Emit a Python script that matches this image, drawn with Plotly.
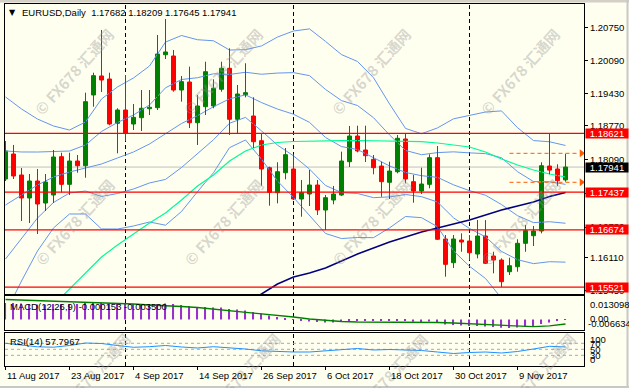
import plotly.graph_objects as go

# ---------------- data ----------------
bar_index = list(range(71))            # 11 Aug 2017 ... 17 Nov 2017 (trading days)
date_ticks = [0, 8, 16, 24, 32, 40, 48, 56, 64]
date_labels = ["11 Aug 2017", "23 Aug 2017", "4 Sep 2017", "14 Sep 2017", "26 Sep 2017",
               "6 Oct 2017", "18 Oct 2017", "30 Oct 2017", "9 Nov 2017"]
month_starts = [15, 36, 58]            # 1 Sep, 2 Oct, 1 Nov

open_ = [1.17700, 1.18204, 1.17781, 1.17317, 1.17660, 1.17216, 1.17378, 1.18150, 1.17593, 1.18063,
         1.17968, 1.19394, 1.19777, 1.19716, 1.18823, 1.19091, 1.18809, 1.18936, 1.19117, 1.19138,
         1.20206, 1.20180, 1.19494, 1.19655, 1.18835, 1.19158, 1.19172, 1.19509, 1.19932, 1.18904,
         1.19400, 1.18970, 1.18472, 1.17928, 1.17424, 1.17827, 1.17902, 1.17297, 1.17398, 1.17579,
         1.17075, 1.17277, 1.17378, 1.18049, 1.18567, 1.18285, 1.18097, 1.17962, 1.17634, 1.17847,
         1.18507, 1.17646, 1.17458, 1.17593, 1.18130, 1.16491, 1.16013, 1.16470, 1.16450, 1.16188,
         1.16551, 1.16148, 1.16067, 1.15831, 1.15932, 1.16404, 1.16557, 1.16652, 1.17962, 1.17902,
         1.17682]
high = [1.18466, 1.18386, 1.17922, 1.17801, 1.17902, 1.17801, 1.18285, 1.18230, 1.18230, 1.18184,
        1.19440, 1.19843, 1.20704, 1.19843, 1.19126, 1.19797, 1.19212, 1.19494, 1.19494, 1.20603,
        1.20926, 1.20301, 1.19777, 1.19964, 1.19394, 1.20065, 1.19710, 1.20065, 1.20335, 1.19595,
        1.20033, 1.19347, 1.18607, 1.17948, 1.18037, 1.18325, 1.18198, 1.17680, 1.17882, 1.17680,
        1.17378, 1.17559, 1.18251, 1.18769, 1.18775, 1.18775, 1.18184, 1.18049, 1.18049, 1.18587,
        1.18621, 1.17781, 1.17928, 1.18198, 1.18365, 1.16571, 1.16571, 1.16605, 1.16571, 1.16873,
        1.16873, 1.16234, 1.16101, 1.16113, 1.16485, 1.16773, 1.16752, 1.18037, 1.18621, 1.17997,
        1.18209]
low = [1.17660, 1.17700, 1.16853, 1.16813, 1.16591, 1.17055, 1.17216, 1.17432, 1.17378, 1.17827,
       1.17726, 1.19158, 1.19454, 1.18783, 1.18218, 1.18466, 1.18688, 1.18668, 1.18990, 1.19091,
       1.20119, 1.19460, 1.19259, 1.18728, 1.18386, 1.18990, 1.19126, 1.19460, 1.18587, 1.18621,
       1.19347, 1.18325, 1.17565, 1.17162, 1.17210, 1.17694, 1.17277, 1.16940, 1.17156, 1.16974,
       1.16672, 1.17190, 1.17357, 1.17942, 1.18238, 1.18043, 1.17795, 1.17343, 1.17297, 1.17815,
       1.17613, 1.17222, 1.17398, 1.17513, 1.16470, 1.15731, 1.15906, 1.16234, 1.16067, 1.16101,
       1.15986, 1.15799, 1.15521, 1.15765, 1.15831, 1.16234, 1.16349, 1.16605, 1.17795, 1.17559,
       1.17645]
close = [1.18265, 1.17761, 1.17317, 1.17660, 1.17196, 1.17640, 1.18144, 1.17593, 1.18063, 1.17968,
         1.19259, 1.19783, 1.19696, 1.18809, 1.19091, 1.18621, 1.18944, 1.19126, 1.19146, 1.20220,
         1.20261, 1.19494, 1.19662, 1.18835, 1.19172, 1.19863, 1.19529, 1.19932, 1.18904, 1.19414,
         1.19440, 1.18452, 1.17902, 1.17432, 1.17847, 1.18190, 1.17297, 1.17424, 1.17579, 1.17075,
         1.17323, 1.17398, 1.18063, 1.18567, 1.18265, 1.18170, 1.17928, 1.17646, 1.17861, 1.18521,
         1.17700, 1.17458, 1.17599, 1.18130, 1.16485, 1.15980, 1.16491, 1.16430, 1.16214, 1.16551,
         1.16001, 1.16067, 1.15630, 1.15952, 1.16404, 1.16658, 1.16652, 1.17968, 1.17880, 1.17666,
         1.17941]

even_idx = list(range(0, 71, 2))
bb_upper2 = [1.19354, 1.19112, 1.18909, 1.18769, 1.18687, 1.18850, 1.19313, 1.19556, 1.19737, 1.19978,
             1.20461, 1.20593, 1.20508, 1.20487, 1.20300, 1.20307, 1.20383, 1.20562, 1.20684, 1.20726,
             1.20474, 1.20208, 1.20069, 1.19742, 1.19214, 1.18720, 1.18613, 1.18730, 1.18913, 1.18989,
             1.19051, 1.19073, 1.18735, 1.18475, 1.18451, 1.18376]
bb_upper1 = [1.18265, 1.18245, 1.18244, 1.18255, 1.18264, 1.18386, 1.18658, 1.18840, 1.18991, 1.19192,
             1.19538, 1.19706, 1.19742, 1.19822, 1.19808, 1.19852, 1.19812, 1.19836, 1.19845, 1.19784,
             1.19506, 1.19281, 1.19182, 1.18936, 1.18589, 1.18276, 1.18190, 1.18232, 1.18248, 1.18227,
             1.18212, 1.18129, 1.17848, 1.17648, 1.17645, 1.17592]
bb_mid = [1.17176, 1.17378, 1.17579, 1.17741, 1.17841, 1.17922, 1.18003, 1.18124, 1.18245, 1.18406,
          1.18615, 1.18819, 1.18976, 1.19157, 1.19316, 1.19397, 1.19241, 1.19110, 1.19006, 1.18842,
          1.18538, 1.18354, 1.18295, 1.18130, 1.17964, 1.17832, 1.17767, 1.17734, 1.17583, 1.17465,
          1.17373, 1.17185, 1.16961, 1.16821, 1.16839, 1.16808]
bb_lower1 = [1.16087, 1.16511, 1.16914, 1.17227, 1.17418, 1.17458, 1.17348, 1.17408, 1.17499, 1.17620,
             1.17692, 1.17932, 1.18210, 1.18492, 1.18824, 1.18942, 1.18670, 1.18384, 1.18167, 1.17900,
             1.17570, 1.17427, 1.17408, 1.17324, 1.17339, 1.17388, 1.17344, 1.17236, 1.16918, 1.16703,
             1.16534, 1.16241, 1.16074, 1.15994, 1.16033, 1.16024]
bb_lower2 = [1.14998, 1.15644, 1.16249, 1.16713, 1.16995, 1.16994, 1.16693, 1.16692, 1.16753, 1.16834,
             1.16769, 1.17045, 1.17444, 1.17827, 1.18332, 1.18487, 1.18099, 1.17658, 1.17328, 1.16958,
             1.16602, 1.16500, 1.16521, 1.16518, 1.16714, 1.16944, 1.16921, 1.16738, 1.16253, 1.15941,
             1.15695, 1.15297, 1.15187, 1.15167, 1.15227, 1.15240]

ma_fast_idx = list(range(6, 71, 2))
ma_fast = [1.15160, 1.15483, 1.15805, 1.16128, 1.16370, 1.16591, 1.16813, 1.17015, 1.17277, 1.17559,
           1.17781, 1.18063, 1.18265, 1.18386, 1.18436, 1.18456, 1.18466, 1.18466, 1.18472, 1.18476,
           1.18472, 1.18466, 1.18460, 1.18452, 1.18426, 1.18386, 1.18345, 1.18245, 1.18103, 1.17982,
           1.17882, 1.17801, 1.17741]
ma_slow_idx = list(range(30, 71, 2))
ma_slow = [1.15220, 1.15382, 1.15583, 1.15724, 1.15805, 1.15906, 1.16047, 1.16188, 1.16309, 1.16430,
           1.16531, 1.16632, 1.16712, 1.16793, 1.16874, 1.16974, 1.17075, 1.17156, 1.17237, 1.17347,
           1.17428]

macd_main = [0.01290, 0.01287, 0.01248, 0.01209, 0.01170, 0.01170, 0.01209, 0.01209, 0.01209, 0.01209,
             0.01287, 0.01310, 0.01303, 0.01287, 0.01248, 0.01209, 0.01209, 0.01170, 0.01131, 0.01209,
             0.01248, 0.01209, 0.01131, 0.01053, 0.00975, 0.00975, 0.00936, 0.00936, 0.00819, 0.00780,
             0.00702, 0.00585, 0.00468, 0.00312, 0.00195, 0.00078, -0.00039, -0.00117, -0.00156, -0.00195,
             -0.00234, -0.00234, -0.00195, -0.00117, -0.00078, -0.00062, -0.00078, -0.00117, -0.00117, -0.00078,
             -0.00117, -0.00172, -0.00195, -0.00156, -0.00273, -0.00390, -0.00429, -0.00468, -0.00507, -0.00507,
             -0.00546, -0.00585, -0.00640, -0.006634, -0.00624, -0.00585, -0.00507, -0.00351, -0.00234, -0.00117,
             -0.000153]
macd_signal = [0.01560, 0.01521, 0.01482, 0.01443, 0.01404, 0.01365, 0.01326, 0.01287, 0.01209, 0.01131,
               0.01092, 0.01014, 0.00936, 0.00819, 0.00702, 0.00585, 0.00468, 0.00312, 0.00195, 0.00039,
               -0.00078, -0.00156, -0.00195, -0.00195, -0.00195, -0.00179, -0.00195, -0.00234, -0.00273, -0.00335,
               -0.00390, -0.00491, -0.00546, -0.00562, -0.00491, -0.00350]
rsi = [70, 64.3, 58.3, 57, 62.7, 71, 69.3, 62.7, 56.7, 58.7, 62.7, 57.7, 54.3, 58.7, 56, 51, 45, 42,
       41, 41, 44.3, 49.3, 52.7, 47.7, 49.3, 47.7, 46, 41, 36, 39.3, 41, 37.7, 42.7, 51, 60, 57.7967]
rsi_levels = [70, 50, 30]

levels = [1.18621, 1.17437, 1.16674, 1.15521]
bid = 1.17941
alert_prices = [1.18218, 1.17634]
alert_from, alert_to = 63, 71.6
price_ticks = [1.20750, 1.20090, 1.19430, 1.18770, 1.18090, 1.17410, 1.16730, 1.16110, 1.15450]

# ---------------- styling ----------------
BG = '#FFFFF0'
BULL, BEAR = '#008000', '#FF0000'
BAND = '#6495ED'
FONT = 'Liberation Sans, Arial, sans-serif'
FS = 9.5
W, H = 629, 388
ML, MR, MT, MB = 5, 45, 4, 22
PW, PH = W - ML - MR, H - MT - MB


def px_x(px):
    return (px - ML) / PW


def px_y(py):
    return (H - MB - py) / PH


fig = go.Figure()
common = dict(hoverinfo='skip', showlegend=False)

for band in [bb_upper2, bb_upper1, bb_mid, bb_lower1, bb_lower2]:
    fig.add_trace(go.Scatter(x=even_idx, y=band, mode='lines', line=dict(color=BAND, width=1), **common))
fig.add_trace(go.Scatter(x=ma_fast_idx, y=ma_fast, mode='lines', line=dict(color='#00FA9A', width=1.2), **common))
fig.add_trace(go.Scatter(x=ma_slow_idx, y=ma_slow, mode='lines', line=dict(color='#000080', width=1.5), **common))

bull = [i for i in bar_index if close[i] >= open_[i]]
bear = [i for i in bar_index if close[i] < open_[i]]
for idxs, col in ((bull, BULL), (bear, BEAR)):
    wx, wy = [], []
    for i in idxs:
        wx += [i, i, None]
        wy += [low[i], high[i], None]
    fig.add_trace(go.Scatter(x=wx, y=wy, mode='lines', line=dict(color=col, width=1), **common))
    fig.add_trace(go.Bar(x=idxs, base=[open_[i] for i in idxs], y=[close[i] - open_[i] for i in idxs],
                         width=0.5, marker=dict(color=col, line=dict(color=col, width=1)), **common))

for p in alert_prices:
    fig.add_trace(go.Scatter(x=[alert_from, alert_to], y=[p, p], mode='lines',
                             line=dict(color='#FF5A00', width=1, dash='4px,3px'), **common))
    fig.add_trace(go.Scatter(x=[72], y=[p], mode='markers', cliponaxis=False,
                             marker=dict(symbol='triangle-right', size=7, color='#FF5A00'), **common))

fig.add_trace(go.Bar(x=bar_index, y=macd_main, width=0.14, marker=dict(color='#9932CC', line=dict(width=0)),
                     xaxis='x2', yaxis='y2', **common))
fig.add_trace(go.Scatter(x=even_idx, y=macd_signal, mode='lines', line=dict(color='#008000', width=1.3),
                         xaxis='x2', yaxis='y2', **common))
fig.add_trace(go.Scatter(x=even_idx, y=rsi, mode='lines', line=dict(color='#1E90FF', width=1),
                         xaxis='x3', yaxis='y3', **common))

shapes = []
for m in month_starts:
    shapes.append(dict(type='line', xref='x', yref='paper', x0=m, x1=m, y0=0, y1=1, layer='below',
                       line=dict(color='black', width=1, dash='4px,3px')))
shapes.append(dict(type='line', xref='paper', yref='y', x0=0, x1=1, y0=bid, y1=bid, layer='below',
                   line=dict(color='#C0C0C0', width=1)))
for lv in levels:
    shapes.append(dict(type='line', xref='paper', yref='y', x0=0, x1=1, y0=lv, y1=lv, layer='above',
                       line=dict(color='#FF0000', width=1.3)))
for lv in rsi_levels:
    shapes.append(dict(type='line', xref='paper', yref='y3', x0=0, x1=1, y0=lv, y1=lv, layer='below',
                       line=dict(color='#A8A8A8', width=1, dash='3px,3px')))
# window frame (grey) on top / right / bottom
shapes.append(dict(type='rect', xref='paper', yref='paper', x0=px_x(0), x1=px_x(W), y0=px_y(2.5), y1=px_y(0),
                   fillcolor='#D4D0C8', line=dict(width=0)))
shapes.append(dict(type='line', xref='paper', yref='paper', x0=px_x(627.5), x1=px_x(627.5), y0=px_y(388), y1=px_y(0),
                   line=dict(color='#C8C8C8', width=2)))
shapes.append(dict(type='line', xref='paper', yref='paper', x0=px_x(0), x1=px_x(W), y0=px_y(387), y1=px_y(387),
                   line=dict(color='#C8C8C8', width=2)))

ann = []
txt = dict(family=FONT, size=FS, color='black')
# watermarks first so the value boxes and labels sit above them
for (wx_, wy_) in [(74, 72), (223, 72), (371, 72), (520, 72), (74, 222), (223, 222), (371, 222), (520, 222),
                   (90, 376), (240, 376), (388, 376), (535, 376)]:
    ann.append(dict(xref='paper', yref='paper', x=px_x(wx_), y=px_y(wy_), text='<b>© FX678 汇通网</b>',
                    showarrow=False, textangle=-48, xanchor='center', yanchor='middle',
                    font=dict(family='Noto Sans CJK SC, DejaVu Sans', size=15, color='rgba(150,150,150,0.38)')))
ann.append(dict(xref='paper', yref='paper', x=px_x(12), y=px_y(13), text='▼', showarrow=False,
                font=dict(family='DejaVu Sans', size=8, color='black'), xanchor='center', yanchor='middle'))
ann.append(dict(xref='paper', yref='paper', x=px_x(20), y=px_y(13),
                text='EURUSD,Daily\u00a0\u00a01.17682 1.18209 1.17645 1.17941', showarrow=False, font=txt,
                xanchor='left', yanchor='middle'))
ann.append(dict(xref='paper', yref='paper', x=px_x(8), y=px_y(306), text='MACD(12,26,9) -0.000153 -0.003500',
                showarrow=False, font=txt, xanchor='left', yanchor='middle'))
ann.append(dict(xref='paper', yref='paper', x=px_x(8), y=px_y(341.5), text='RSI(14) 57.7967',
                showarrow=False, font=txt, xanchor='left', yanchor='middle'))
for label, xx, yy in [('0.013098', 588, 304.5), ('0.00', 587.5, 318.5), ('-0.006634', 586, 323.5),
                      ('100', 588, 339.5), ('70', 587.5, 343.5), ('50', 587.5, 349.5),
                      ('30', 587.5, 355), ('0', 587.5, 359.5)]:
    ann.append(dict(xref='paper', yref='paper', x=px_x(xx), y=px_y(yy), text=label, showarrow=False,
                    font=txt, xanchor='left', yanchor='middle'))
for t, lab in zip(date_ticks, date_labels):
    ann.append(dict(xref='x', yref='paper', x=t, y=0, yshift=-2, xshift=-1, text=lab, showarrow=False,
                    font=txt, xanchor='left', yanchor='top'))
for lv in levels + [bid]:
    ann.append(dict(xref='paper', yref='y', x=1, y=lv, xshift=1, text=f'{lv:.5f}', showarrow=False,
                    font=dict(family=FONT, size=FS, color='white'), xanchor='left', yanchor='middle',
                    bgcolor='black' if lv == bid else '#FF0000', width=42, height=9, borderpad=0, align='center'))

XR = [-0.0625, 72.3125]
xbase = dict(range=XR, showgrid=False, zeroline=False, showline=True, mirror=True, linecolor='black',
             linewidth=1, showticklabels=False, fixedrange=True)
ybase = dict(showgrid=False, zeroline=False, showline=True, mirror=True, linecolor='black', linewidth=1,
             fixedrange=True)

fig.update_layout(
    width=W, height=H, margin=dict(l=ML, r=MR, t=MT, b=MB, pad=0, autoexpand=False),
    paper_bgcolor=BG, plot_bgcolor=BG, barmode='overlay', showlegend=False, hovermode=False,
    xaxis=dict(domain=[0, 1], anchor='y', ticks='', **xbase),
    xaxis2=dict(domain=[0, 1], anchor='y2', matches='x', ticks='', **xbase),
    xaxis3=dict(domain=[0, 1], anchor='y3', matches='x', ticks='outside', ticklen=3, tickcolor='black',
                tickvals=date_ticks, **xbase),
    yaxis=dict(domain=[px_y(294), 1], anchor='x', range=[1.15382, 1.21228], side='right',
               tickvals=price_ticks, ticktext=[f'{p:.5f}' for p in price_ticks], ticks='outside', ticklen=3,
               tickcolor='black', tickfont=txt, **ybase),
    yaxis2=dict(domain=[px_y(330), px_y(296)], anchor='x2', range=[-0.00819, 0.01833], side='right',
                showticklabels=False, ticks='', **ybase),
    yaxis3=dict(domain=[px_y(365.5), px_y(332.5)], anchor='x3', range=[-4, 106], side='right',
                showticklabels=False, ticks='', **ybase),
    shapes=shapes, annotations=ann,
)

fig.write_html('out.html', config={'displayModeBar': False})
